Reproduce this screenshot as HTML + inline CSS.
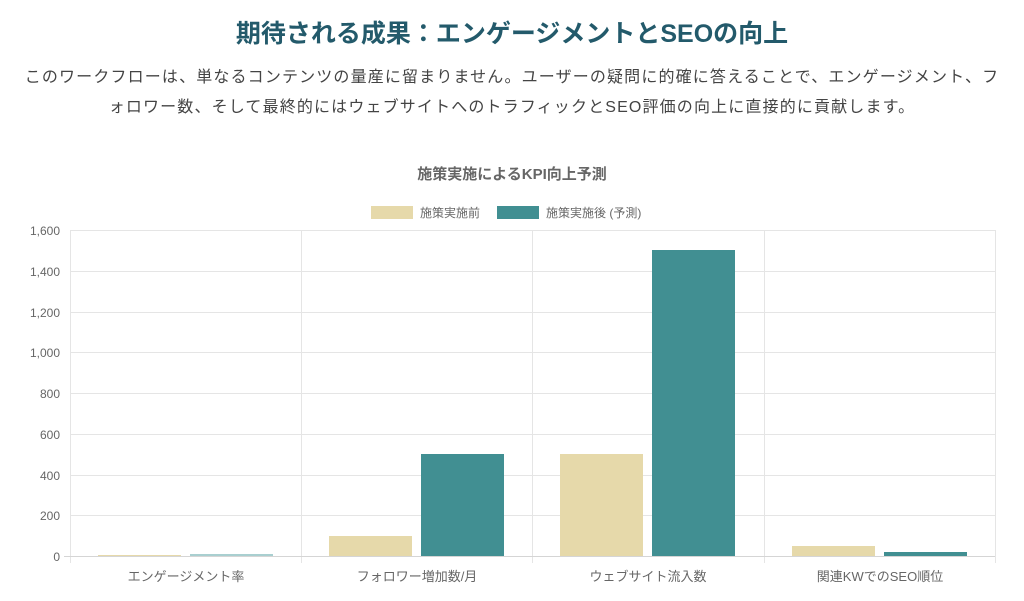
<!DOCTYPE html><html><head><meta charset="utf-8"><style>
body{margin:0;background:#fff;width:1024px;height:601px;overflow:hidden;font-family:"Liberation Sans","Noto Sans CJK JP",sans-serif}
h1{position:absolute;top:14px;left:0;width:1024px;text-align:center;margin:0;font-size:25px;color:#235a6b;font-weight:bold}
p{position:absolute;top:63px;left:0;width:1024px;margin:0;text-align:center;font-size:16px;line-height:30px;color:#444;letter-spacing:1.15px;white-space:nowrap}
</style></head><body>
<h1>期待される成果：エンゲージメントとSEOの向上</h1>
<p>このワークフローは、単なるコンテンツの量産に留まりません。ユーザーの疑問に的確に答えることで、エンゲージメント、フ<br>ォロワー数、そして最終的にはウェブサイトへのトラフィックとSEO評価の向上に直接的に貢献します。</p>
<svg width="1024" height="601" style="position:absolute;left:0;top:0" font-family="Liberation Sans, Noto Sans CJK JP, sans-serif">
<text x="512" y="179" text-anchor="middle" font-size="15" font-weight="bold" fill="#666">施策実施によるKPI向上予測</text>
<rect x="371" y="206" width="42" height="13" fill="#e6d9aa"/><text x="420" y="217" font-size="12" fill="#666">施策実施前</text>
<rect x="497" y="206" width="42" height="13" fill="#418f92"/><text x="546" y="217" font-size="12" fill="#666">施策実施後 (予測)</text>
<g stroke="#e5e5e5" stroke-width="1">
<line x1="70" y1="230.5" x2="995" y2="230.5"/><line x1="70" y1="271.5" x2="995" y2="271.5"/><line x1="70" y1="312.5" x2="995" y2="312.5"/><line x1="70" y1="352.5" x2="995" y2="352.5"/><line x1="70" y1="393.5" x2="995" y2="393.5"/><line x1="70" y1="434.5" x2="995" y2="434.5"/><line x1="70" y1="475.5" x2="995" y2="475.5"/><line x1="70" y1="515.5" x2="995" y2="515.5"/>
<line x1="70.5" y1="230" x2="70.5" y2="563"/><line x1="301.5" y1="230" x2="301.5" y2="563"/><line x1="532.5" y1="230" x2="532.5" y2="563"/><line x1="764.5" y1="230" x2="764.5" y2="563"/><line x1="995.5" y1="230" x2="995.5" y2="563"/>
</g>
<line x1="64" y1="556.5" x2="995" y2="556.5" stroke="#d5d5d5"/>
<g font-size="12" fill="#666" text-anchor="end">
<text x="60" y="235">1,600</text><text x="60" y="276">1,400</text><text x="60" y="317">1,200</text><text x="60" y="357">1,000</text><text x="60" y="398">800</text><text x="60" y="439">600</text><text x="60" y="480">400</text><text x="60" y="520">200</text><text x="60" y="561">0</text></g>
<g fill="#e6d9aa"><rect x="98" y="555" width="83" height="1"/><rect x="329" y="536" width="83" height="20"/><rect x="560" y="454" width="83" height="102"/><rect x="792" y="546" width="83" height="10"/></g>
<g fill="#418f92"><rect x="190" y="554" width="83" height="2" fill="#a9cfd0"/><rect x="421" y="454" width="83" height="102"/><rect x="652" y="250" width="83" height="306"/><rect x="884" y="552" width="83" height="4"/></g>
<g font-size="13" fill="#666" text-anchor="middle">
<text x="186" y="581">エンゲージメント率</text><text x="417" y="581">フォロワー増加数/月</text><text x="648" y="581">ウェブサイト流入数</text><text x="880" y="581">関連KWでのSEO順位</text></g>
</svg>
</body></html>
